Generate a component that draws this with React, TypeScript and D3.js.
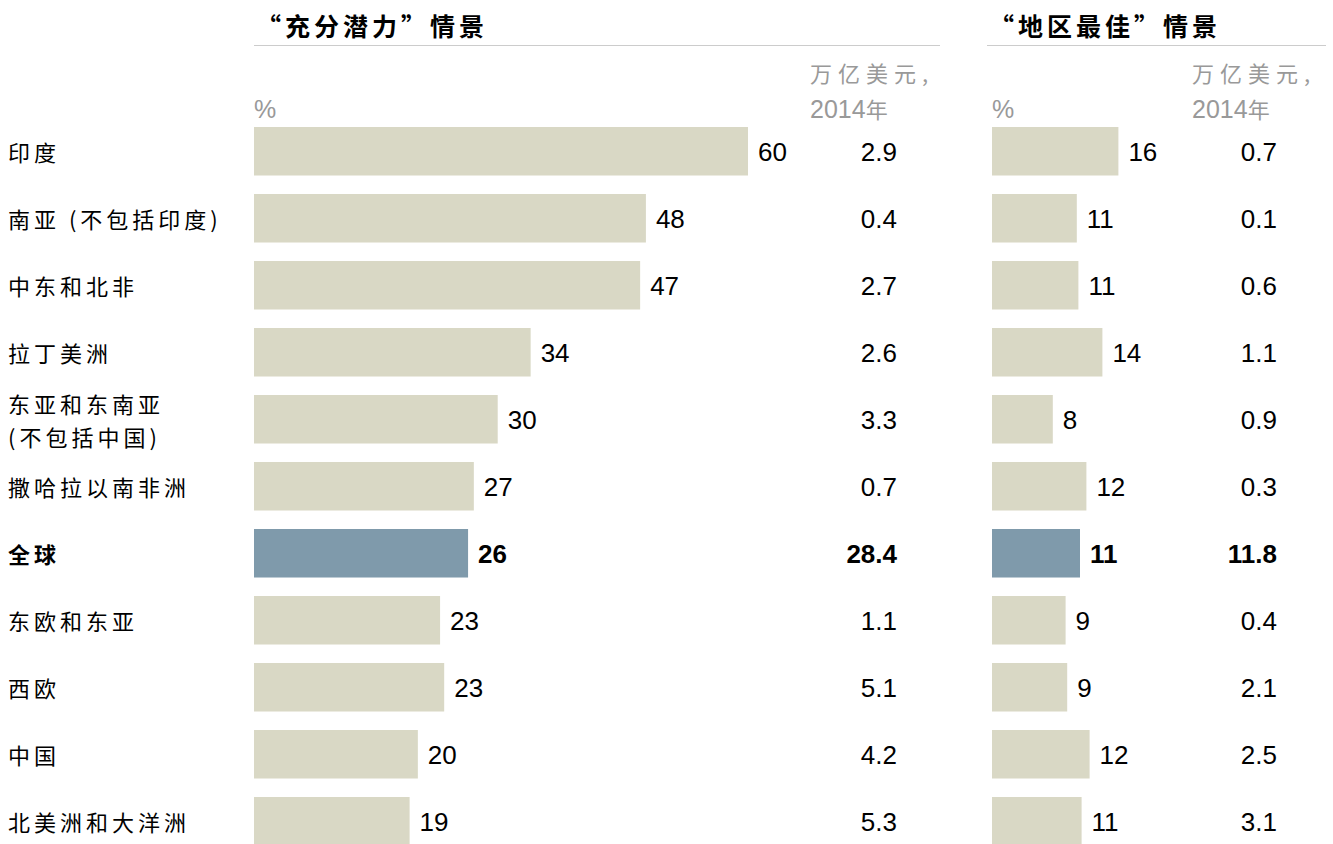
// Externals
import * as d3 from 'd3'
import { FC } from 'react'



const WIDTH = 1333
const HEIGHT = 844

const CJK = '"Noto Sans CJK SC", "Noto Sans", sans-serif'
const LATIN = '"Liberation Sans", Arial, sans-serif'

const BAR_FILL = '#d9d8c5'
const HIGHLIGHT_FILL = '#7f9aab'
const MUTED = '#999999'
const RULE = '#cccccc'


// Data
const regions = [
  '印度',
  '南亚 (不包括印度)',
  '中东和北非',
  '拉丁美洲',
  '东亚和东南亚\n(不包括中国)',
  '撒哈拉以南非洲',
  '全球',
  '东欧和东亚',
  '西欧',
  '中国',
  '北美洲和大洋洲',
]
const highlightRegion = '全球'

// "充分潜力" scenario: % uplift (bar length) and US$ trillion, 2014
const fullPotentialPct = [60.0, 47.6, 46.9, 33.6, 29.6, 26.7, 26.0, 22.6, 23.1, 19.9, 18.9]
const fullPotentialValue = ['2.9', '0.4', '2.7', '2.6', '3.3', '0.7', '28.4', '1.1', '5.1', '4.2', '5.3']

// "地区最佳" scenario
const bestInRegionPct = [15.8, 10.6, 10.8, 13.8, 7.6, 11.8, 11.0, 9.2, 9.4, 12.2, 11.2]
const bestInRegionValue = ['0.7', '0.1', '0.6', '1.1', '0.9', '0.3', '11.8', '0.4', '2.1', '2.5', '3.1']

const panels = [
  {
    title: '“充分潜力”情景',
    pct: fullPotentialPct,
    values: fullPotentialValue,
    x0: 254, pxPerPct: 494 / 60,
    ruleX: [254, 940], unitX: 810, valueX: 897,
  },
  {
    title: '“地区最佳”情景',
    pct: bestInRegionPct,
    values: bestInRegionValue,
    x0: 992, pxPerPct: 8.0,
    ruleX: [987, 1326], unitX: 1192, valueX: 1277,
  },
]



const App: FC = () => {
  // Rows: 67px pitch, ~48px bars
  const yScale = d3
    .scaleBand<string>()
    .domain(regions)
    .range([127, 127 + 67 * (regions.length - 0.276)])
    .paddingInner(0.276)
    .paddingOuter(0)

  const bw = yScale.bandwidth()

  return (
    <svg
      width={ WIDTH }
      height={ HEIGHT }
      style={{ position: 'absolute', left: 0, top: 0, background: '#fff' }}
    >
      {/* category labels */}
      { regions.map((r) => {
        const cy = (yScale(r) as number) + bw / 2
        const lines = r.split('\n')
        const bold = r === highlightRegion
        return (
          <text
            key={ r }
            x={ 8 }
            fontFamily={ CJK }
            fontSize={ 22 }
            letterSpacing={ 4 }
            fontWeight={ bold ? 700 : 400 }
            fill='#000'
          >
            { lines.map((l, i) => (
              <tspan
                key={ i }
                x={ 8 }
                y={ cy + (i - (lines.length - 1) / 2) * 33 }
                dominantBaseline='central'
              >
                { l }
              </tspan>
            )) }
          </text>
        )
      }) }

      { panels.map((p, pi) => {
        const xScale = d3
          .scaleLinear()
          .domain([0, 60])
          .range([p.x0, p.x0 + 60 * p.pxPerPct])
        return (
          <g key={ pi }>
            <text
              x={ p.ruleX[0] + 2 }
              y={ 36 }
              fontFamily={ CJK }
              fontSize={ 25 }
              fontWeight={ 700 }
              letterSpacing={ 4 }
            >
              { p.title }
            </text>
            <line
              x1={ p.ruleX[0] }
              x2={ p.ruleX[1] }
              y1={ 45.5 }
              y2={ 45.5 }
              stroke={ RULE }
              strokeWidth={ 1 }
            />
            <text x={ p.x0 } y={ 118 } fontFamily={ LATIN } fontSize={ 25 } fill={ MUTED }>
              %
            </text>
            <text x={ p.unitX } y={ 82 } fontFamily={ CJK } fontSize={ 22 } letterSpacing={ 6 } fill={ MUTED }>
              万亿美元,
            </text>
            <text x={ p.unitX } y={ 118 } fill={ MUTED }>
              <tspan fontFamily={ LATIN } fontSize={ 25 }>2014</tspan>
              <tspan fontFamily={ CJK } fontSize={ 22 }>年</tspan>
            </text>

            { regions.map((r, i) => {
              const y = yScale(r) as number
              const cy = y + bw / 2
              const hl = r === highlightRegion
              const end = xScale(p.pct[i])
              return (
                <g key={ r }>
                  <rect
                    x={ p.x0 }
                    y={ y }
                    width={ end - p.x0 }
                    height={ bw }
                    fill={ hl ? HIGHLIGHT_FILL : BAR_FILL }
                  />
                  <text
                    x={ end + 10 }
                    y={ cy + 1 }
                    dominantBaseline='central'
                    fontFamily={ LATIN }
                    fontSize={ 26 }
                    fontWeight={ hl ? 700 : 400 }
                  >
                    { Math.round(p.pct[i]) }
                  </text>
                  <text
                    x={ p.valueX }
                    y={ cy + 1 }
                    dominantBaseline='central'
                    textAnchor='end'
                    fontFamily={ LATIN }
                    fontSize={ 26 }
                    fontWeight={ hl ? 700 : 400 }
                  >
                    { p.values[i] }
                  </text>
                </g>
              )
            }) }
          </g>
        )
      }) }
    </svg>
  )
}


export default App
